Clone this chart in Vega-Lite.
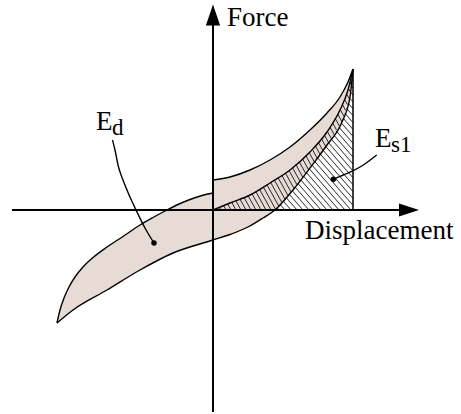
{
  "$schema": "https://vega.github.io/schema/vega-lite/v6.json",
  "width": 461,
  "height": 414,
  "padding": 0,
  "autosize": {"type": "fit", "contains": "padding"},
  "config": {"view": {"stroke": null}},
  "datasets": {
    "loop": [
      {"part": "L", "x": -156, "yu": -113, "yl": -113},
      {"part": "L", "x": -153, "yu": -100, "yl": -110.6},
      {"part": "L", "x": -149, "yu": -88, "yl": -107.3},
      {"part": "L", "x": -144, "yu": -77, "yl": -103.3},
      {"part": "L", "x": -138, "yu": -67, "yl": -98.8},
      {"part": "L", "x": -130, "yu": -57, "yl": -94.1},
      {"part": "L", "x": -120, "yu": -47.5, "yl": -88.2},
      {"part": "L", "x": -106, "yu": -37, "yl": -80},
      {"part": "L", "x": -90, "yu": -26.5, "yl": -70.3},
      {"part": "L", "x": -73, "yu": -15, "yl": -60},
      {"part": "L", "x": -60, "yu": -7.5, "yl": -53.3},
      {"part": "L", "x": -46, "yu": 0, "yl": -46.1},
      {"part": "L", "x": -35, "yu": 5.5, "yl": -41.4},
      {"part": "L", "x": -23, "yu": 10.5, "yl": -37.5},
      {"part": "L", "x": -11, "yu": 14.5, "yl": -33.6},
      {"part": "L", "x": 0, "yu": 17, "yl": -30},
      {"part": "R", "x": 0, "yu": 30, "yl": -30},
      {"part": "R", "x": 17, "yu": 33, "yl": -24.5},
      {"part": "R", "x": 35, "yu": 39.3, "yl": -17},
      {"part": "R", "x": 37, "yu": 40, "yl": -15.8},
      {"part": "R", "x": 50, "yu": 46.5, "yl": -8},
      {"part": "R", "x": 57, "yu": 50, "yl": -3.3},
      {"part": "R", "x": 62, "yu": 53.3, "yl": 0},
      {"part": "R", "x": 77, "yu": 63, "yl": 16.7},
      {"part": "R", "x": 80, "yu": 65.6, "yl": 20},
      {"part": "R", "x": 97, "yu": 80, "yl": 42},
      {"part": "R", "x": 114, "yu": 97, "yl": 65},
      {"part": "R", "x": 127, "yu": 113, "yl": 84.9},
      {"part": "R", "x": 129, "yu": 116.8, "yl": 88},
      {"part": "R", "x": 135, "yu": 128, "yl": 106.8},
      {"part": "R", "x": 137, "yu": 133.2, "yl": 113},
      {"part": "R", "x": 140, "yu": 141, "yl": 141}
    ],
    "hatchA": [
      {"x": 64.0, "y": 2.3, "x2": 66, "y2": 0},
      {"x": 67.1, "y": 5.6, "x2": 72, "y2": 0},
      {"x": 70.1, "y": 9.1, "x2": 78, "y2": 0},
      {"x": 73.2, "y": 12.4, "x2": 84, "y2": 0},
      {"x": 76.2, "y": 15.8, "x2": 90, "y2": 0},
      {"x": 79.3, "y": 19.2, "x2": 96, "y2": 0},
      {"x": 82.2, "y": 22.8, "x2": 102, "y2": 0},
      {"x": 85.0, "y": 26.5, "x2": 108, "y2": 0},
      {"x": 87.8, "y": 30.1, "x2": 114, "y2": 0},
      {"x": 90.6, "y": 33.8, "x2": 120, "y2": 0},
      {"x": 93.4, "y": 37.5, "x2": 126, "y2": 0},
      {"x": 96.3, "y": 41.1, "x2": 132, "y2": 0},
      {"x": 99.0, "y": 44.8, "x2": 138, "y2": 0},
      {"x": 101.8, "y": 48.5, "x2": 140, "y2": 4.6},
      {"x": 104.6, "y": 52.2, "x2": 140, "y2": 11.5},
      {"x": 107.3, "y": 56.0, "x2": 140, "y2": 18.4},
      {"x": 110.1, "y": 59.7, "x2": 140, "y2": 25.3},
      {"x": 112.8, "y": 63.5, "x2": 140, "y2": 32.2},
      {"x": 115.5, "y": 67.3, "x2": 140, "y2": 39.1},
      {"x": 118.1, "y": 71.2, "x2": 140, "y2": 46.0},
      {"x": 120.6, "y": 75.2, "x2": 140, "y2": 52.9},
      {"x": 123.2, "y": 79.1, "x2": 140, "y2": 59.8},
      {"x": 125.8, "y": 83.0, "x2": 140, "y2": 66.7},
      {"x": 128.3, "y": 87.1, "x2": 140, "y2": 73.6},
      {"x": 130.2, "y": 91.8, "x2": 140, "y2": 80.5},
      {"x": 131.8, "y": 96.8, "x2": 140, "y2": 87.4},
      {"x": 133.4, "y": 101.9, "x2": 140, "y2": 94.3},
      {"x": 135.0, "y": 106.9, "x2": 140, "y2": 101.2},
      {"x": 136.6, "y": 112.0, "x2": 140, "y2": 108.1},
      {"x": 137.5, "y": 117.9, "x2": 140, "y2": 115.0},
      {"x": 138.2, "y": 124.0, "x2": 140, "y2": 121.9},
      {"x": 138.8, "y": 130.2, "x2": 140, "y2": 128.8}
    ],
    "hatchB": [
      {"x": 2.4, "y": 1.0, "x2": 3, "y2": 0},
      {"x": 6.5, "y": 2.7, "x2": 8, "y2": 0},
      {"x": 10.6, "y": 4.4, "x2": 13, "y2": 0},
      {"x": 14.7, "y": 6.0, "x2": 18, "y2": 0},
      {"x": 18.7, "y": 7.7, "x2": 23, "y2": 0},
      {"x": 22.8, "y": 9.3, "x2": 28, "y2": 0},
      {"x": 26.9, "y": 11.0, "x2": 33, "y2": 0},
      {"x": 31.0, "y": 12.6, "x2": 38, "y2": 0},
      {"x": 35.1, "y": 14.2, "x2": 43, "y2": 0},
      {"x": 39.0, "y": 16.2, "x2": 48, "y2": 0},
      {"x": 42.8, "y": 18.5, "x2": 53, "y2": 0},
      {"x": 46.5, "y": 20.7, "x2": 58, "y2": 0},
      {"x": 50.3, "y": 23.0, "x2": 62.6, "y2": 0.7},
      {"x": 54.0, "y": 25.2, "x2": 65.7, "y2": 4.1},
      {"x": 57.7, "y": 27.5, "x2": 68.8, "y2": 7.6},
      {"x": 61.4, "y": 29.9, "x2": 71.9, "y2": 11.0},
      {"x": 65.1, "y": 32.3, "x2": 75.0, "y2": 14.4},
      {"x": 68.8, "y": 34.6, "x2": 78.1, "y2": 17.9},
      {"x": 72.4, "y": 37.0, "x2": 81.1, "y2": 21.4},
      {"x": 76.1, "y": 39.4, "x2": 84.0, "y2": 25.2},
      {"x": 79.5, "y": 42.3, "x2": 86.9, "y2": 28.9},
      {"x": 82.9, "y": 45.3, "x2": 89.8, "y2": 32.7},
      {"x": 86.2, "y": 48.3, "x2": 92.7, "y2": 36.5},
      {"x": 89.5, "y": 51.3, "x2": 95.6, "y2": 40.2},
      {"x": 92.9, "y": 54.3, "x2": 98.5, "y2": 44.1},
      {"x": 96.2, "y": 57.3, "x2": 101.4, "y2": 47.9},
      {"x": 99.3, "y": 60.7, "x2": 104.2, "y2": 51.8},
      {"x": 102.3, "y": 64.2, "x2": 107.1, "y2": 55.6},
      {"x": 105.3, "y": 67.8, "x2": 109.9, "y2": 59.5},
      {"x": 108.4, "y": 71.4, "x2": 112.8, "y2": 63.4},
      {"x": 111.4, "y": 74.9, "x2": 115.6, "y2": 67.4},
      {"x": 114.3, "y": 78.6, "x2": 118.3, "y2": 71.5},
      {"x": 116.9, "y": 82.9, "x2": 121.0, "y2": 75.7},
      {"x": 119.5, "y": 87.3, "x2": 123.7, "y2": 79.8},
      {"x": 122.1, "y": 91.7, "x2": 126.4, "y2": 84.0},
      {"x": 124.7, "y": 96.0, "x2": 129.0, "y2": 88.1},
      {"x": 127.2, "y": 100.5, "x2": 130.9, "y2": 93.8},
      {"x": 129.3, "y": 105.7, "x2": 132.7, "y2": 99.5},
      {"x": 131.4, "y": 110.9, "x2": 134.5, "y2": 105.3},
      {"x": 133.5, "y": 116.2, "x2": 136.4, "y2": 111.0},
      {"x": 135.4, "y": 121.7, "x2": 137.5, "y2": 117.9},
      {"x": 136.9, "y": 128.0, "x2": 138.3, "y2": 125.4},
      {"x": 138.4, "y": 134.3, "x2": 139.1, "y2": 132.9}
    ],
    "curves": [
      {"curve": "UL", "x": -156, "y": -113},
      {"curve": "UL", "x": -153, "y": -100},
      {"curve": "UL", "x": -149, "y": -88},
      {"curve": "UL", "x": -144, "y": -77},
      {"curve": "UL", "x": -138, "y": -67},
      {"curve": "UL", "x": -130, "y": -57},
      {"curve": "UL", "x": -120, "y": -47.5},
      {"curve": "UL", "x": -106, "y": -37},
      {"curve": "UL", "x": -90, "y": -26.5},
      {"curve": "UL", "x": -73, "y": -15},
      {"curve": "UL", "x": -60, "y": -7.5},
      {"curve": "UL", "x": -46, "y": 0},
      {"curve": "UL", "x": -35, "y": 5.5},
      {"curve": "UL", "x": -23, "y": 10.5},
      {"curve": "UL", "x": -11, "y": 14.5},
      {"curve": "UL", "x": 0, "y": 17},
      {"curve": "UR", "x": 0, "y": 30},
      {"curve": "UR", "x": 17, "y": 33},
      {"curve": "UR", "x": 37, "y": 40},
      {"curve": "UR", "x": 57, "y": 50},
      {"curve": "UR", "x": 77, "y": 63},
      {"curve": "UR", "x": 97, "y": 80},
      {"curve": "UR", "x": 114, "y": 97},
      {"curve": "UR", "x": 127, "y": 113},
      {"curve": "UR", "x": 135, "y": 128},
      {"curve": "UR", "x": 140, "y": 141},
      {"curve": "M", "x": 0, "y": 0},
      {"curve": "M", "x": 17, "y": 7},
      {"curve": "M", "x": 37, "y": 15},
      {"curve": "M", "x": 57, "y": 27},
      {"curve": "M", "x": 77, "y": 40},
      {"curve": "M", "x": 97, "y": 58},
      {"curve": "M", "x": 114, "y": 78},
      {"curve": "M", "x": 127, "y": 100},
      {"curve": "M", "x": 135, "y": 120},
      {"curve": "M", "x": 140, "y": 141},
      {"curve": "L", "x": -156, "y": -113},
      {"curve": "L", "x": -140, "y": -100},
      {"curve": "L", "x": -106, "y": -80},
      {"curve": "L", "x": -73, "y": -60},
      {"curve": "L", "x": -40, "y": -43},
      {"curve": "L", "x": 0, "y": -30},
      {"curve": "L", "x": 17, "y": -24.5},
      {"curve": "L", "x": 35, "y": -17},
      {"curve": "L", "x": 50, "y": -8},
      {"curve": "L", "x": 62, "y": 0},
      {"curve": "L", "x": 80, "y": 20},
      {"curve": "L", "x": 97, "y": 42},
      {"curve": "L", "x": 114, "y": 65},
      {"curve": "L", "x": 129, "y": 88},
      {"curve": "L", "x": 137, "y": 113},
      {"curve": "L", "x": 140, "y": 141},
      {"curve": "LeadD", "x": -100.5, "y": 70},
      {"curve": "LeadD", "x": -98, "y": 60},
      {"curve": "LeadD", "x": -95, "y": 45},
      {"curve": "LeadD", "x": -90, "y": 30},
      {"curve": "LeadD", "x": -83, "y": 13},
      {"curve": "LeadD", "x": -76, "y": -2},
      {"curve": "LeadD", "x": -68, "y": -18},
      {"curve": "LeadD", "x": -59, "y": -33},
      {"curve": "LeadS", "x": 163.7, "y": 55},
      {"curve": "LeadS", "x": 150.3, "y": 45},
      {"curve": "LeadS", "x": 140.3, "y": 39.3},
      {"curve": "LeadS", "x": 130.3, "y": 35},
      {"curve": "LeadS", "x": 120.3, "y": 30.7}
    ],
    "axes": [
      {"name": "Displacement axis", "x": -201, "y": 0, "x2": 196, "y2": 0},
      {"name": "Force axis", "x": 0, "y": -202, "x2": 0, "y2": 196}
    ],
    "peakline": [
      {"x": 140, "y": 0, "x2": 140, "y2": 141}
    ],
    "arrowsH": [{"x": 196, "y": 0}],
    "arrowsV": [{"x": 0, "y": 195}],
    "dots": [
      {"label": "Ed", "x": -59, "y": -33},
      {"label": "Es1", "x": 120.3, "y": 30.7}
    ],
    "mainText": [
      {"text": "Force", "x": 14, "y": 184},
      {"text": "Displacement", "x": 92, "y": -29},
      {"text": "E", "x": -117, "y": 80},
      {"text": "E", "x": 162, "y": 63}
    ],
    "subText": [
      {"text": "d", "x": -101, "y": 75},
      {"text": "s1", "x": 178, "y": 58.5}
    ]
  },
  "layer": [
    {
      "data": {"name": "loop"},
      "mark": {"type": "area", "color": "#e7dbd6", "interpolate": "monotone", "opacity": 1},
      "encoding": {
        "x": {"field": "x", "type": "quantitative", "axis": null, "scale": {"domain": [-213, 248], "nice": false, "zero": false}},
        "y": {"field": "yu", "type": "quantitative", "axis": null, "scale": {"domain": [-204, 210], "nice": false, "zero": false}},
        "y2": {"field": "yl"},
        "detail": {"field": "part"}
      }
    },
    {
      "data": {"name": "hatchA"},
      "mark": {"type": "rule", "color": "#111111", "strokeWidth": 0.9},
      "encoding": {
        "x": {"field": "x", "type": "quantitative", "axis": null, "scale": {"domain": [-213, 248], "nice": false, "zero": false}},
        "y": {"field": "y", "type": "quantitative", "axis": null, "scale": {"domain": [-204, 210], "nice": false, "zero": false}},
        "x2": {"field": "x2"},
        "y2": {"field": "y2"}
      }
    },
    {
      "data": {"name": "hatchB"},
      "mark": {"type": "rule", "color": "#111111", "strokeWidth": 0.9},
      "encoding": {
        "x": {"field": "x", "type": "quantitative", "axis": null, "scale": {"domain": [-213, 248], "nice": false, "zero": false}},
        "y": {"field": "y", "type": "quantitative", "axis": null, "scale": {"domain": [-204, 210], "nice": false, "zero": false}},
        "x2": {"field": "x2"},
        "y2": {"field": "y2"}
      }
    },
    {
      "data": {"name": "curves"},
      "mark": {"type": "line", "color": "#000000", "strokeWidth": 1.4, "interpolate": "monotone"},
      "encoding": {
        "x": {"field": "x", "type": "quantitative", "axis": null, "scale": {"domain": [-213, 248], "nice": false, "zero": false}},
        "y": {"field": "y", "type": "quantitative", "axis": null, "scale": {"domain": [-204, 210], "nice": false, "zero": false}},
        "detail": {"field": "curve"}
      }
    },
    {
      "data": {"name": "peakline"},
      "mark": {"type": "rule", "color": "#000000", "strokeWidth": 1.5},
      "encoding": {
        "x": {"field": "x", "type": "quantitative", "axis": null, "scale": {"domain": [-213, 248], "nice": false, "zero": false}},
        "y": {"field": "y", "type": "quantitative", "axis": null, "scale": {"domain": [-204, 210], "nice": false, "zero": false}},
        "x2": {"field": "x2"},
        "y2": {"field": "y2"}
      }
    },
    {
      "data": {"name": "axes"},
      "mark": {"type": "rule", "color": "#000000", "strokeWidth": 2},
      "encoding": {
        "x": {"field": "x", "type": "quantitative", "axis": null, "scale": {"domain": [-213, 248], "nice": false, "zero": false}},
        "y": {"field": "y", "type": "quantitative", "axis": null, "scale": {"domain": [-204, 210], "nice": false, "zero": false}},
        "x2": {"field": "x2"},
        "y2": {"field": "y2"}
      }
    },
    {
      "data": {"name": "arrowsH"},
      "mark": {"type": "point", "filled": true, "color": "#000000", "opacity": 1, "size": 400, "shape": "M1,0L-1,-0.65L-1,0.65Z"},
      "encoding": {
        "x": {"field": "x", "type": "quantitative", "axis": null, "scale": {"domain": [-213, 248], "nice": false, "zero": false}},
        "y": {"field": "y", "type": "quantitative", "axis": null, "scale": {"domain": [-204, 210], "nice": false, "zero": false}}
      }
    },
    {
      "data": {"name": "arrowsV"},
      "mark": {"type": "point", "filled": true, "color": "#000000", "opacity": 1, "size": 441, "shape": "M0,-1L0.68,1L-0.68,1Z"},
      "encoding": {
        "x": {"field": "x", "type": "quantitative", "axis": null, "scale": {"domain": [-213, 248], "nice": false, "zero": false}},
        "y": {"field": "y", "type": "quantitative", "axis": null, "scale": {"domain": [-204, 210], "nice": false, "zero": false}}
      }
    },
    {
      "data": {"name": "dots"},
      "mark": {"type": "point", "shape": "circle", "filled": true, "color": "#000000", "opacity": 1, "size": 30},
      "encoding": {
        "x": {"field": "x", "type": "quantitative", "axis": null, "scale": {"domain": [-213, 248], "nice": false, "zero": false}},
        "y": {"field": "y", "type": "quantitative", "axis": null, "scale": {"domain": [-204, 210], "nice": false, "zero": false}}
      }
    },
    {
      "data": {"name": "mainText"},
      "mark": {"type": "text", "font": "Liberation Serif", "fontSize": 27, "align": "left", "baseline": "alphabetic", "color": "#000000"},
      "encoding": {
        "x": {"field": "x", "type": "quantitative", "axis": null, "scale": {"domain": [-213, 248], "nice": false, "zero": false}},
        "y": {"field": "y", "type": "quantitative", "axis": null, "scale": {"domain": [-204, 210], "nice": false, "zero": false}},
        "text": {"field": "text"}
      }
    },
    {
      "data": {"name": "subText"},
      "mark": {"type": "text", "font": "Liberation Serif", "fontSize": 23, "align": "left", "baseline": "alphabetic", "color": "#000000"},
      "encoding": {
        "x": {"field": "x", "type": "quantitative", "axis": null, "scale": {"domain": [-213, 248], "nice": false, "zero": false}},
        "y": {"field": "y", "type": "quantitative", "axis": null, "scale": {"domain": [-204, 210], "nice": false, "zero": false}},
        "text": {"field": "text"}
      }
    }
  ]
}
